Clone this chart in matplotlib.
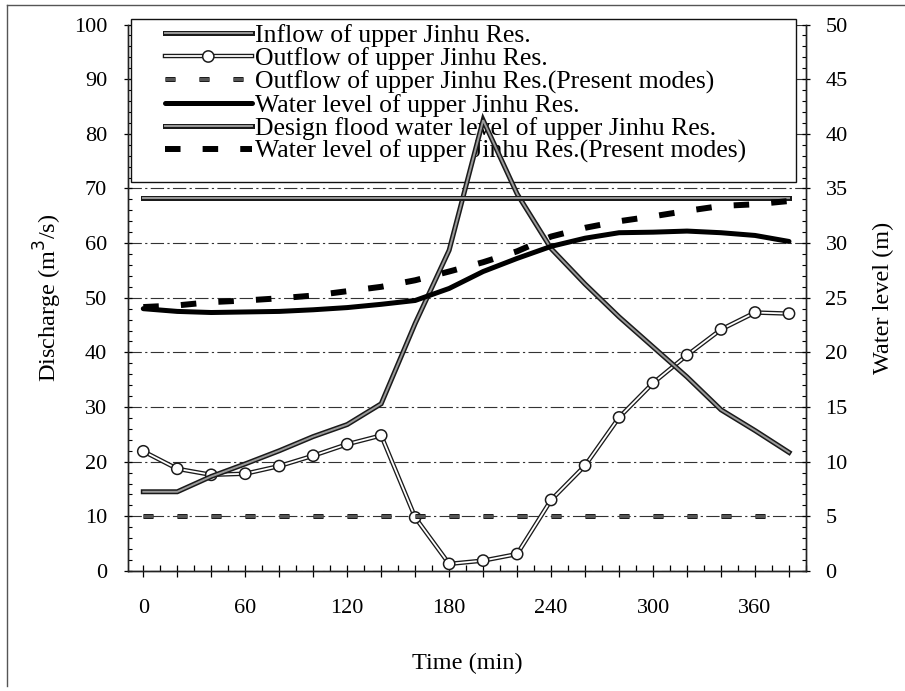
import matplotlib
matplotlib.use("Agg")
import matplotlib.pyplot as plt
import matplotlib.patheffects as pe
from matplotlib.lines import Line2D
from matplotlib.patches import Rectangle
from matplotlib.ticker import MultipleLocator, FuncFormatter

plt.rcParams["font.family"] = ["Liberation Serif", "DejaVu Serif"]

# Time axis (min)
time = [0, 20, 40, 60, 80, 100, 120, 140, 160, 180,
        200, 220, 240, 260, 280, 300, 320, 340, 360, 380]

# Discharge (m3/s), left axis
inflow = [14.5, 14.5, 17.3, 19.6, 22.0, 24.6, 26.8, 30.6, 45.3, 58.7,
          82.5, 69.0, 59.0, 52.5, 46.5, 41.0, 35.5, 29.5, 25.7, 21.7]
outflow = [21.9, 18.7, 17.6, 17.8, 19.2, 21.1, 23.2, 24.8, 9.8, 1.3,
           1.9, 3.1, 13.0, 19.3, 28.1, 34.4, 39.5, 44.2, 47.3, 47.1]
outflow_present = [10.0] * len(time)

# Water level (m), right axis
level = [24.0, 23.75, 23.65, 23.7, 23.75, 23.9, 24.1, 24.4, 24.75, 25.85,
         27.4, 28.6, 29.7, 30.45, 30.95, 31.0, 31.1, 30.95, 30.7, 30.15]
design_level = [34.1] * len(time)
level_present = [24.15, 24.3, 24.6, 24.75, 24.95, 25.2, 25.6, 26.0, 26.6, 27.4,
                 28.25, 29.25, 30.6, 31.4, 32.0, 32.45, 32.95, 33.4, 33.55, 33.85]

labels = [
    "Inflow of upper Jinhu Res.",
    "Outflow of upper Jinhu Res.",
    "Outflow of upper Jinhu Res.(Present modes)",
    "Water level of upper Jinhu Res.",
    "Design flood water level of upper Jinhu Res.",
    "Water level of upper Jinhu Res.(Present modes)",
]

fig = plt.figure(figsize=(9.05, 6.91), dpi=100)
ax = fig.add_axes([128 / 905, 1 - 571 / 691, 678 / 905, 546.5 / 691])
ax2 = ax.twinx()

def edged(w, c="#1a1a1a"):
    return [pe.Stroke(linewidth=w, foreground=c), pe.Normal()]

# left axis series
h_in, = ax.plot(time, inflow, color="#9a9a9a", lw=1.4, zorder=4,
                path_effects=edged(3.6), solid_joinstyle="miter")
h_out, = ax.plot(time, outflow, color="white", lw=1.3, marker="o", ms=6,
                 mfc="white", mec="white", zorder=3.5, path_effects=edged(3.2))
h_op, = ax.plot(time, outflow_present, color="#555555", lw=2.4,
                dashes=(3.0, 7.2), dash_capstyle="butt", zorder=3.5,
                path_effects=edged(3.6, "#111111"))

# right axis series
h_lv, = ax2.plot(time, level, color="black", lw=3.6, solid_capstyle="round")
h_dl, = ax2.plot(time, design_level, color="#9a9a9a", lw=1.4,
                 path_effects=edged(3.6))
h_lp, = ax2.plot(time, level_present, color="black", lw=4.3,
                 dashes=(2.6, 3.7), dash_capstyle="butt")

ax.set_xlim(-9, 390)
ax.set_ylim(0, 100)
ax2.set_ylim(0, 50)

# grid
ax.set_axisbelow(True)
ax.yaxis.set_major_locator(MultipleLocator(10))
ax.yaxis.set_minor_locator(MultipleLocator(2))
ax.grid(axis="y", which="major", color="#333333", lw=0.8,
        dashes=(12, 3, 2, 3))
ax.grid(axis="x", visible=False)

ax.xaxis.set_major_locator(MultipleLocator(20))
ax.xaxis.set_minor_locator(MultipleLocator(10))
ax.xaxis.set_major_formatter(
    FuncFormatter(lambda v, p: f"{int(v)}" if v % 60 == 0 and 0 <= v <= 360 else ""))
ax2.yaxis.set_major_locator(MultipleLocator(5))
ax2.yaxis.set_minor_locator(MultipleLocator(1))

ax.tick_params(axis="x", which="major", direction="inout", length=8,
               width=0.9, pad=16.5, labelsize=16)
ax.tick_params(axis="x", which="minor", direction="in", length=4, width=0.9)
ax.tick_params(axis="y", which="major", direction="inout", length=6,
               width=0.9, pad=12, labelsize=16)
ax.tick_params(axis="y", which="minor", direction="in", length=3, width=0.8)
ax2.tick_params(axis="y", which="major", direction="inout", length=6,
                width=0.9, pad=11, labelsize=16)
ax2.tick_params(axis="y", which="minor", direction="in", length=3, width=0.8)

for a in (ax, ax2):
    for s in a.spines.values():
        s.set_linewidth(1.0)
        s.set_color("#222222")
ax.spines["top"].set_visible(False)
ax2.spines["top"].set_visible(False)

ax.set_xlabel("Time (min)", fontsize=17.5)
ax.xaxis.set_label_coords(0.5, -0.15)
ax.set_ylabel("Discharge (m$^3$/s)", fontsize=17.5)
ax.yaxis.set_label_coords(-0.094, 0.5)
ax2.set_ylabel("Water level (m)", fontsize=17.5)
ax2.yaxis.set_label_coords(1.098, 0.5)

# legend box (opaque, under the inflow line), sticking slightly above the plot
ax.add_patch(Rectangle((0.0044, 0.712), 0.981, 0.2975, transform=ax.transAxes,
                       facecolor="white", edgecolor="#111111", lw=1.0,
                       zorder=2.4, clip_on=False))
leg = ax.legend([h_in, h_out, h_op, h_lv, h_dl, h_lp], labels,
                loc="upper left", bbox_to_anchor=(0.054, 1.0),
                frameon=False, fontsize=18.5, handlelength=3.4,
                handletextpad=0.12, labelspacing=0.0, borderpad=0,
                borderaxespad=0)
leg.set_zorder(2.5)

# outer frame of the figure
fig.add_artist(Line2D([7 / 905, 1], [1 - 5 / 691] * 2, transform=fig.transFigure,
                      color="#555555", lw=1))
fig.add_artist(Line2D([7 / 905] * 2, [1 - 5 / 691, 1 - 686 / 691],
                      transform=fig.transFigure, color="#555555", lw=1))

fig.savefig("out.png", dpi=100)
